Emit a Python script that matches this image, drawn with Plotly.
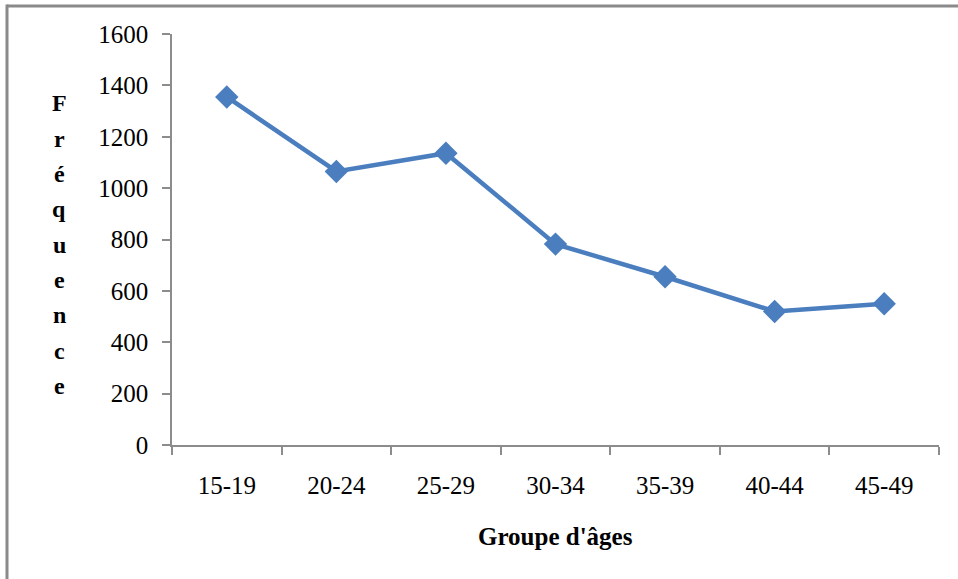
import plotly.graph_objects as go

# Age groups and their frequencies
age_groups = ["15-19", "20-24", "25-29", "30-34", "35-39", "40-44", "45-49"]
frequencies = [1355, 1065, 1136, 782, 655, 520, 550]

y_tick_values = [0, 200, 400, 600, 800, 1000, 1200, 1400, 1600]
y_title_letters = list("Fréquence")

W, H = 958, 579
L, R, T, B = 172, 19, 33.5, 133.5
plot_w = W - L - R
plot_h = H - T - B

def px_to_paper_x(px):
    return (px - L) / plot_w

def px_to_paper_y(py):
    return (H - B - py) / plot_h

serif = "Liberation Serif, Times New Roman, serif"
blue = "#4A7EBE"
axis_grey = "#8C8C8C"

fig = go.Figure()
fig.add_trace(go.Scatter(
    x=age_groups,
    y=frequencies,
    mode="lines+markers",
    line=dict(color=blue, width=4.5),
    marker=dict(symbol="diamond", size=18, color=blue),
    showlegend=False,
    cliponaxis=False,
))

# Vertical, letter-by-letter y-axis title
letter_top, letter_step = 103, 35.4
for i, ch in enumerate(y_title_letters):
    fig.add_annotation(
        x=px_to_paper_x(59), y=px_to_paper_y(letter_top + i * letter_step),
        xref="paper", yref="paper", text=f"<b>{ch}</b>", showarrow=False,
        font=dict(family=serif, size=24, color="black"),
        xanchor="center", yanchor="middle",
    )

# X-axis title
fig.add_annotation(
    x=px_to_paper_x(555), y=px_to_paper_y(537),
    xref="paper", yref="paper", text="<b>Groupe d'âges</b>", showarrow=False,
    font=dict(family=serif, size=25, color="black"),
    xanchor="center", yanchor="middle",
)

# Frame lines on the top and left edges of the chart area
fig.add_shape(type="line", xref="paper", yref="paper",
              x0=px_to_paper_x(7), x1=px_to_paper_x(W + 5),
              y0=px_to_paper_y(5.5), y1=px_to_paper_y(5.5),
              line=dict(color="#8A8A8A", width=3))
fig.add_shape(type="line", xref="paper", yref="paper",
              x0=px_to_paper_x(7), x1=px_to_paper_x(7),
              y0=px_to_paper_y(4), y1=px_to_paper_y(H + 5),
              line=dict(color="#8A8A8A", width=3))

fig.update_xaxes(
    type="category",
    range=[-0.5, len(age_groups) - 0.5],
    showline=True, linecolor=axis_grey, linewidth=1.5,
    ticks="outside", ticklen=8, tickcolor=axis_grey, tickwidth=1.5,
    tickson="boundaries",
    showgrid=False, zeroline=False,
    tickfont=dict(family=serif, size=25, color="black"),
    ticklabelstandoff=17,
)
fig.update_yaxes(
    range=[0, 1600],
    tickvals=y_tick_values,
    showline=True, linecolor=axis_grey, linewidth=1.5,
    ticks="outside", ticklen=8, tickcolor=axis_grey, tickwidth=1.5,
    showgrid=False, zeroline=False,
    tickfont=dict(family=serif, size=25, color="black"),
    ticklabelstandoff=9,
)

fig.update_layout(
    width=W, height=H,
    margin=dict(l=L, r=R, t=T, b=B),
    paper_bgcolor="white", plot_bgcolor="white",
)

fig.write_html("out.html")
